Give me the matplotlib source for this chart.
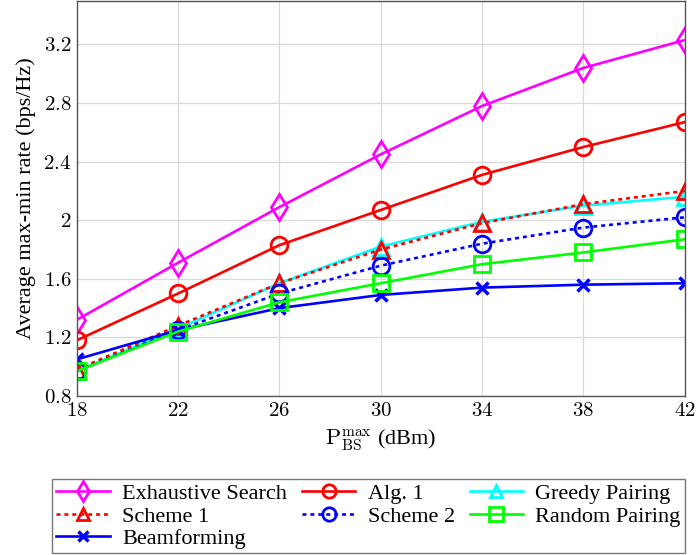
import matplotlib as mpl
mpl.use('Agg')
import matplotlib.pyplot as plt

mpl.rcParams['font.family'] = 'serif'
mpl.rcParams['font.serif'] = ['Liberation Serif', 'DejaVu Serif']
mpl.rcParams['mathtext.fontset'] = 'cm'

power = [18, 22, 26, 30, 34, 38, 42]

exhaustive = [1.32, 1.71, 2.09, 2.45, 2.78, 3.04, 3.23]
alg1 = [1.18, 1.50, 1.83, 2.07, 2.31, 2.50, 2.67]
scheme1 = [0.98, 1.28, 1.57, 1.80, 1.98, 2.11, 2.20]
greedy = [0.97, 1.26, 1.57, 1.82, 1.99, 2.10, 2.16]
scheme2 = [0.97, 1.25, 1.50, 1.69, 1.84, 1.95, 2.02]
random_pair = [0.97, 1.24, 1.44, 1.57, 1.70, 1.78, 1.87]
beamforming = [1.05, 1.25, 1.40, 1.49, 1.54, 1.56, 1.57]

fig = plt.figure(figsize=(6.98, 5.55), dpi=100)
ax = fig.add_axes([0.110, 0.2865, 0.871, 0.7125])

lw = 1.9
ms = 12
mew = 2.0
dots = (0, (1.5, 1.5))

h_ex, = ax.plot(power, exhaustive, color='magenta', marker='d', lw=lw, ms=ms + 1,
                mew=mew, mfc='none', label='Exhaustive Search')
h_alg, = ax.plot(power, alg1, color='red', marker='o', lw=lw, ms=ms,
                 mew=mew, mfc='none', label='Alg. 1')
h_gr, = ax.plot(power, greedy, color='cyan', marker='^', lw=lw, ms=ms - 1,
                mew=mew, mfc='none', label='Greedy Pairing')
h_s1, = ax.plot(power, scheme1, color='red', marker='^', ls=dots, lw=lw, ms=ms - 1,
                mew=mew, mfc='none', label='Scheme 1')
h_s2, = ax.plot(power, scheme2, color='blue', marker='o', ls=dots, lw=lw, ms=ms,
                mew=mew, mfc='none', label='Scheme 2')
h_bf, = ax.plot(power, beamforming, color='blue', marker='x', lw=lw, ms=ms - 3,
                mew=mew + 0.5, label='Beamforming')
h_rp, = ax.plot(power, random_pair, color='lime', marker='s', lw=lw, ms=ms,
                mew=mew, mfc='none', label='Random Pairing')

ax.set_xlim(18, 42)
ax.set_ylim(0.8, 3.5)
ax.set_xticks(power)
ax.set_xticklabels([r'$%d$' % p for p in power])
yt = [0.8, 1.2, 1.6, 2.0, 2.4, 2.8, 3.2]
ax.set_yticks(yt)
ax.set_yticklabels([r'$%g$' % v for v in yt])
ax.tick_params(labelsize=15, length=0, pad=4)
ax.grid(True, color='#d9d9d9', lw=0.9)
for s in ax.spines.values():
    s.set_color('#555555')
    s.set_linewidth(1.0)

ax.set_xlabel(r'$\mathrm{P}_{\mathrm{BS}}^{\max}$ (dBm)', fontsize=16, labelpad=5)
ax.set_ylabel('Average max-min rate (bps/Hz)', fontsize=16, labelpad=5)

handles = [h_ex, h_s1, h_bf, h_alg, h_s2, h_gr, h_rp]
leg = fig.legend(handles=handles, labels=[h.get_label() for h in handles],
                 loc='lower left', bbox_to_anchor=(0.0745, 0.003),
                 ncol=3, fontsize=16, handlelength=2.4,
                 handletextpad=0.55, labelspacing=0.08, columnspacing=0.68,
                 borderpad=0.2, borderaxespad=0, fancybox=False,
                 edgecolor='#555555', markerscale=0.8)
leg.get_frame().set_linewidth(1.0)

fig.savefig('out.png', dpi=100)
